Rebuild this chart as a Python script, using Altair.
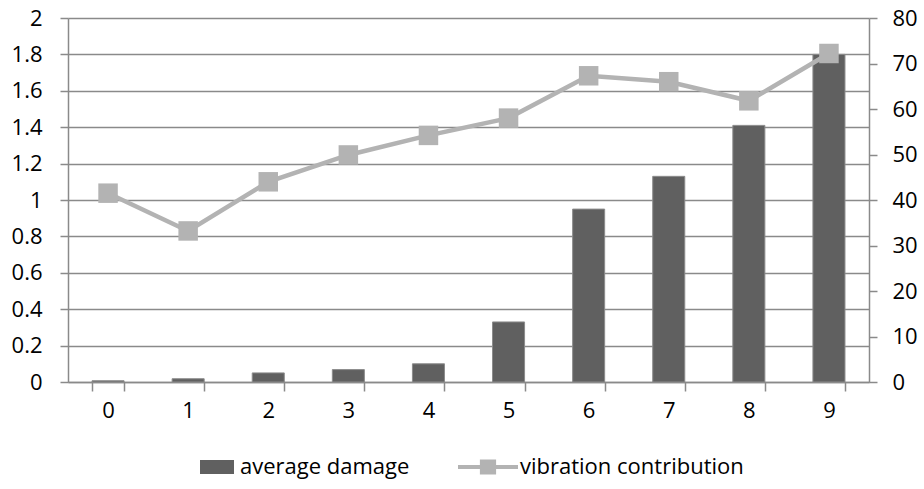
import altair as alt
import pandas as pd

# Chart values
categories = ["0", "1", "2", "3", "4", "5", "6", "7", "8", "9"]
average_damage = [0.007, 0.018, 0.05, 0.068, 0.10, 0.33, 0.95, 1.13, 1.41, 1.80]
vibration_contribution = [41.5, 33.2, 44.0, 49.9, 54.2, 58.0, 67.3, 66.0, 61.8, 72.2]
left_ticks = [round(0.2 * i, 1) for i in range(11)]
right_ticks = [10 * i for i in range(9)]

df = pd.DataFrame({
    "cat": categories,
    "damage": average_damage,
    "vibration": vibration_contribution,
    "bar_series": "average damage",
    "line_series": "vibration contribution",
})

FONT = "Open Sans"
GRID = "#8a8a8a"
BAR = "#606060"
LINE = "#b3b3b3"

x = alt.X(
    "cat:N",
    sort=categories,
    scale=alt.Scale(paddingInner=0.6, paddingOuter=0.3),
    axis=alt.Axis(
        title=None, labelAngle=0, tickBand="extent", tickSize=9,
        labelPadding=9, domainColor=GRID, tickColor=GRID,
        domainWidth=1.5, tickWidth=1.5, grid=False,
    ),
)

bars = alt.Chart(df).mark_bar(
    color=BAR, stroke="#8c8c8c", strokeWidth=1
).encode(
    x=x,
    y=alt.Y(
        "damage:Q",
        scale=alt.Scale(domain=[0, 2], nice=False),
        axis=alt.Axis(
            title=None, values=left_ticks, format=".1~f", orient="left",
            grid=True, gridColor=GRID, gridWidth=1.5, tickSize=8,
            labelPadding=18, domainColor=GRID, tickColor=GRID,
            domainWidth=1.5, tickWidth=1.5,
        ),
    ),
    color=alt.Color(
        "bar_series:N",
        scale=alt.Scale(range=[BAR]),
        legend=alt.Legend(
            orient="none", legendX=132, legendY=432, title=None,
            symbolType="M-1,-0.41H1V0.41H-1Z", symbolSize=1156,
            symbolStrokeWidth=0, labelOffset=6, labelLimit=400,
        ),
    ),
)

vib_y = alt.Y(
    "vibration:Q",
    scale=alt.Scale(domain=[0, 80], nice=False),
    axis=alt.Axis(
        title=None, values=right_ticks, orient="right", grid=False,
        tickSize=8, labelPadding=15, domainColor=GRID, tickColor=GRID,
        domainWidth=1.5, tickWidth=1.5,
    ),
)

line = alt.Chart(df).mark_line(color=LINE, strokeWidth=4.5).encode(
    x=alt.X("cat:N", sort=categories),
    y=vib_y,
)

points = alt.Chart(df).mark_point(
    shape="square", filled=True, size=380, opacity=1
).encode(
    x=alt.X("cat:N", sort=categories),
    y=alt.Y("vibration:Q"),
    color=alt.Color(
        "line_series:N",
        scale=alt.Scale(range=[LINE]),
        legend=alt.Legend(
            orient="none", legendX=390, legendY=419, title=None,
            symbolType="M-1,-0.07H-0.27V-0.25H0.27V-0.07H1V0.07H0.27V0.25H-0.27V0.07H-1Z",
            symbolSize=3600, symbolStrokeWidth=0, labelOffset=2, labelLimit=400,
        ),
    ),
)

vib_layer = alt.layer(line, points)

chart = alt.layer(bars, vib_layer).resolve_scale(
    y="independent", color="independent"
).properties(
    width=801,
    height=364,
    autosize=alt.AutoSizeParams(type="none"),
    padding={"left": 68, "top": 18, "right": 55, "bottom": 107},
).configure(
    font=FONT,
).configure_axis(
    labelFont=FONT, labelFontSize=22, labelColor="#000000",
).configure_legend(
    labelFont=FONT, labelFontSize=22, labelColor="#000000", padding=0,
).configure_view(
    stroke=None,
)

chart.save("out.html", embed_options={"renderer": "svg", "actions": False})
